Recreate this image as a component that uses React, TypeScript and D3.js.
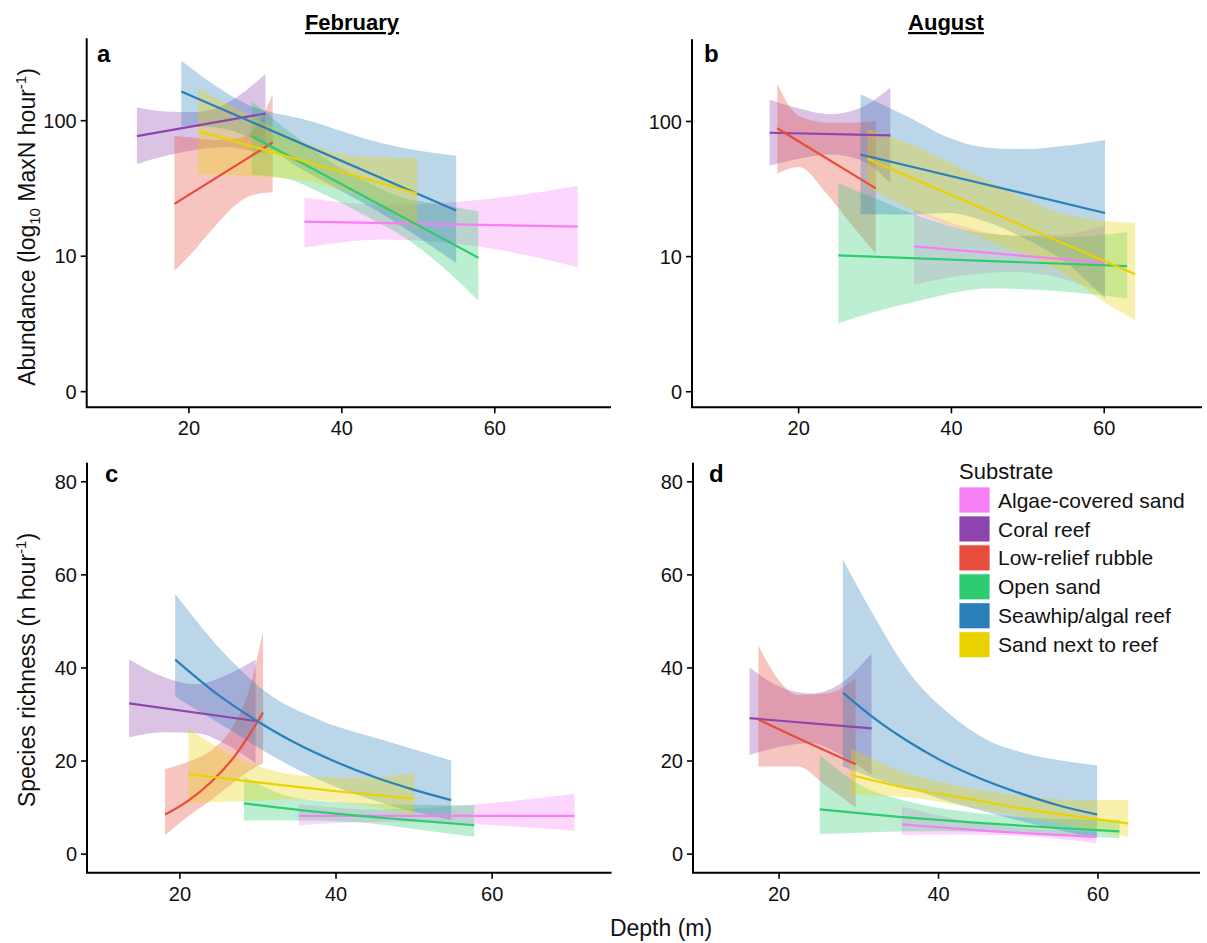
import React from "react";
import * as d3 from "d3";

// ---------- Data ----------
const substrates = [
  "Algae-covered sand",
  "Coral reef",
  "Low-relief rubble",
  "Open sand",
  "Seawhip/algal reef",
  "Sand next to reef",
];
const substrateColors = ["#F67FF6", "#8E44AD", "#E74C3C", "#2ECC71", "#2980B9", "#EAD200"];

const depthTicks = [20, 40, 60];
const abundanceTicks = [1, 10, 100];
const abundanceTickLabels = ["0", "10", "100"];
const richnessTicks = [0, 20, 40, 60, 80];
const seasons = ["February", "August"];
const panelLetters = ["a", "b", "c", "d"];

// Panel a: February abundance — fitted line [depth, MaxN]
const febAbundanceLines: Record<string, number[][]> = {
  "Algae-covered sand": [[35.1, 18], [70.85, 16.5]],
  "Coral reef": [[13.2, 77], [30, 113]],
  "Low-relief rubble": [[18.1, 24.3], [30.95, 69]],
  "Open sand": [[28.2, 77], [57.85, 9.75]],
  "Seawhip/algal reef": [[19, 164], [54.95, 21.7]],
  "Sand next to reef": [[21.2, 84], [49.85, 29]],
};
// confidence band [depth, low, high]
const febAbundanceBands: Record<string, number[][]> = {
  "Algae-covered sand": [[35.1, 11.6, 27], [45.35, 13.3, 24], [57.85, 11.8, 26], [70.85, 8.3, 33]],
  "Coral reef": [[13.2, 48, 125], [17, 55, 117], [21, 61, 116], [25, 64, 135], [27.5, 61, 168], [30, 57, 221]],
  "Low-relief rubble": [[18.1, 7.8, 77], [20.35, 10.5, 75], [23.35, 16.5, 72], [26.35, 24.5, 74], [28.35, 28.3, 84], [30.95, 29.6, 157]],
  "Open sand": [[28.2, 40, 140], [33, 37, 84], [38, 28, 52], [43, 20, 36], [48, 14, 27], [53, 8.5, 24], [57.85, 4.7, 21.5]],
  "Seawhip/algal reef": [[19, 91, 277], [23, 90, 189], [27.35, 78, 134], [35.35, 42, 101], [45.35, 20.4, 68], [54.95, 8.9, 55]],
  "Sand next to reef": [[21.2, 40, 173], [28.35, 39, 107], [35, 36, 70], [42, 28, 55], [49.85, 15.9, 53]],
};

// Panel b: August abundance
const augAbundanceLines: Record<string, number[][]> = {
  "Algae-covered sand": [[35.1, 11.9], [60.1, 9.0]],
  "Coral reef": [[16.2, 82.5], [32, 79]],
  "Low-relief rubble": [[17.2, 89], [30.1, 32]],
  "Open sand": [[25.2, 10.2], [63, 8.5]],
  "Seawhip/algal reef": [[28.1, 57], [60.1, 21]],
  "Sand next to reef": [[29, 53], [64.05, 7.4]],
};
const augAbundanceBands: Record<string, number[][]> = {
  "Algae-covered sand": [[35.1, 6.2, 22.5], [42, 7.3, 16.5], [48, 7.7, 14.3], [54, 7, 14.5], [60.1, 5.3, 17]],
  "Coral reef": [[16.2, 47, 145], [20, 53, 125], [24, 57, 113], [28, 52, 125], [32, 35, 178]],
  "Low-relief rubble": [[17.2, 41, 189], [20, 46, 110], [23.7, 29, 98], [27, 17, 98], [30.1, 10.5, 101]],
  "Open sand": [[25.2, 3.2, 35], [30, 3.9, 27], [35, 4.6, 20.7], [45.2, 5.8, 14.7], [55, 5.5, 13.9], [63, 4.9, 15.2]],
  "Seawhip/algal reef": [[28.1, 20.7, 159], [34.5, 20.5, 107], [39.6, 21, 76], [44.66, 18, 64], [49.7, 13.5, 62.5], [54.8, 9.2, 66], [60.1, 4.9, 73]],
  "Sand next to reef": [[29, 32.6, 88], [34.5, 22.5, 68], [44.66, 13.3, 36.5], [54.8, 7.5, 20.7], [60, 4.6, 18.4], [64.05, 3.4, 17.7]],
};

// Panel c: February species richness
const febRichnessLines: Record<string, number[][]> = {
  "Algae-covered sand": [[35.2, 8.2], [70.55, 8.2]],
  "Coral reef": [[13.5, 32.4], [29.7, 28.6]],
  "Low-relief rubble": [[18.1, 8.5], [21, 11.4], [24, 15.5], [27, 21.0], [30.65, 30.4]],
  "Open sand": [[28.2, 10.9], [38, 9.0], [48, 7.5], [57.7, 6.2]],
  "Seawhip/algal reef": [[19.4, 41.8], [25, 34.1], [30, 28.5], [35, 23.7], [40, 19.8], [45, 16.5], [50, 13.8], [54.75, 11.6]],
  "Sand next to reef": [[21.1, 17.2], [30, 15.4], [40, 13.5], [50, 11.9]],
};
const febRichnessBands: Record<string, number[][]> = {
  "Algae-covered sand": [[35.2, 6.2, 10.7], [45, 6.9, 9.6], [55, 6.6, 10.3], [70.55, 5, 12.9]],
  "Coral reef": [[13.5, 25.1, 41.8], [18, 26.2, 38], [22, 26, 36.5], [26, 23.5, 38.5], [29.7, 19.5, 41.8]],
  "Low-relief rubble": [[18.1, 4.1, 18.3], [21, 8.0, 19.8], [24, 11.6, 22.3], [27, 15.5, 28], [29, 18, 36], [30.65, 19.5, 48]],
  "Open sand": [[28.2, 7.2, 16.6], [35, 7.2, 12], [43, 6.8, 10.9], [50, 5.4, 10.6], [57.7, 3.7, 10.5]],
  "Seawhip/algal reef": [[19.4, 33.8, 55.9], [26.5, 26.6, 41.7], [31.3, 21.6, 34.5], [37.9, 15.9, 28.8], [46, 10.9, 24.5], [54.75, 7.3, 20.1]],
  "Sand next to reef": [[21.1, 11.0, 27], [28, 11.4, 20.2], [35, 11.8, 17], [42, 10.8, 16.4], [50, 8.4, 17.3]],
};

// Panel d: August species richness
const augRichnessLines: Record<string, number[][]> = {
  "Algae-covered sand": [[35.4, 6.4], [47, 4.9], [59.8, 3.7]],
  "Coral reef": [[16.3, 29.2], [31.6, 27.0]],
  "Low-relief rubble": [[17.4, 28.9], [23, 24.4], [29.6, 19.3]],
  "Open sand": [[25.1, 9.6], [35, 8.0], [45, 6.7], [55, 5.6], [62.7, 4.9]],
  "Seawhip/algal reef": [[28, 34.7], [32, 29.1], [36, 24.4], [40, 20.4], [45, 16.4], [50, 13.2], [55, 10.5], [59.9, 8.5]],
  "Sand next to reef": [[29, 17], [36, 14.2], [44, 11.8], [52, 9.4], [58, 7.9], [63.8, 6.6]],
};
const augRichnessBands: Record<string, number[][]> = {
  "Algae-covered sand": [[35.4, 4.1, 10.2], [42, 4.2, 7.6], [47, 4.1, 6.2], [53, 3.6, 5.3], [59.8, 2.3, 4.8]],
  "Coral reef": [[16.3, 21.3, 40.1], [20, 23, 36], [24, 23.8, 34.5], [28, 21, 37], [31.6, 17.0, 43.1]],
  "Low-relief rubble": [[17.4, 18.8, 44.8], [19.5, 18.8, 38.5], [22.3, 18.8, 34.2], [26, 14.5, 34.5], [29.6, 10, 37.8]],
  "Open sand": [[25.1, 4.3, 21.3], [30, 4.6, 15], [37, 4.9, 11], [45, 4.8, 8.8], [53, 4.3, 7.7], [62.7, 3.4, 7.3]],
  "Seawhip/algal reef": [[28, 18.8, 63.3], [31.5, 16.5, 52.4], [36.4, 14, 38.8], [41.3, 11.3, 30.2], [46.1, 9, 24.5], [51, 6.8, 21.6], [55, 5.2, 20.2], [59.9, 3.4, 19.1]],
  "Sand next to reef": [[29, 12.7, 22.7], [36, 12.2, 17.4], [44, 10, 14.2], [52, 7.6, 12.2], [58, 5.6, 11.6], [63.8, 3.7, 11.6]],
};

// ---------- Drawing ----------
const FONT = "'Liberation Sans', Arial, Helvetica, sans-serif";

function Panel(props: any) {
  const { lines, bands, xRange, xDomain, yRange, yScale, yTicks, yTickLabels, letter, letterX, letterY } = props;
  const x = d3.scaleLinear().domain(xDomain).range(xRange);
  const y = yScale;
  const area = d3
    .area<number[]>()
    .x((d) => x(d[0]))
    .y0((d) => y(d[1]))
    .y1((d) => y(d[2]))
    .curve(d3.curveMonotoneX);
  const line = d3
    .line<number[]>()
    .x((d) => x(d[0]))
    .y((d) => y(d[1]))
    .curve(d3.curveMonotoneX);
  const x0 = xRange[0];
  const x1 = xRange[1];
  const yb = yRange[0];
  const yt = yRange[1];
  return (
    <g>
      {substrates.map((s, i) =>
        bands[s] ? (
          <path key={"b" + s} d={area(bands[s]) || ""} fill={substrateColors[i]} fillOpacity={0.32} stroke="none" />
        ) : null
      )}
      {substrates.map((s, i) =>
        lines[s] ? (
          <path key={"l" + s} d={line(lines[s]) || ""} fill="none" stroke={substrateColors[i]} strokeWidth={2.2} />
        ) : null
      )}
      <path d={`M${x0},${yt}V${yb}H${x1}`} fill="none" stroke="#000" strokeWidth={2} />
      {yTicks.map((t: number, i: number) => (
        <g key={"yt" + t}>
          <line x1={x0 - 6} x2={x0} y1={y(t)} y2={y(t)} stroke="#000" strokeWidth={1.6} />
          <text x={x0 - 10} y={y(t)} dy="0.36em" textAnchor="end" fontSize={20} fontFamily={FONT} fill="#111">
            {yTickLabels[i]}
          </text>
        </g>
      ))}
      {depthTicks.map((t) => (
        <g key={"xt" + t}>
          <line x1={x(t)} x2={x(t)} y1={yb} y2={yb + 6} stroke="#000" strokeWidth={1.6} />
          <text x={x(t)} y={yb + 28} textAnchor="middle" fontSize={20} fontFamily={FONT} fill="#111">
            {t}
          </text>
        </g>
      ))}
      <text x={letterX} y={letterY} fontSize={24} fontWeight="bold" fontFamily={FONT} fill="#000">
        {letter}
      </text>
    </g>
  );
}

export default function App() {
  const abundY = d3.scaleLog().domain([0.767, 405.5]).range([407.3, 38.3]);
  const abundYb = d3.scaleLog().domain([0.767, 405.5]).range([407.3, 39.3]);
  const richY = d3.scaleLinear().domain([-4.0, 84.1]).range([872.7, 462.7]);

  const legendX = 959;
  const legendY0 = 487;
  const legendStep = 28.95;

  return (
    <svg
      width={1207}
      height={943}
      style={{ position: "absolute", left: 0, top: 0, background: "#fff" }}
      fontFamily={FONT}
    >
      <rect x={0} y={0} width={1207} height={943} fill="#fff" />
      <text x={352} y={30} textAnchor="middle" fontSize={22} fontWeight="bold" fontFamily={FONT} textDecoration="underline">
        {seasons[0]}
      </text>
      <text x={946} y={30} textAnchor="middle" fontSize={22} fontWeight="bold" fontFamily={FONT} textDecoration="underline">
        {seasons[1]}
      </text>

      <Panel
        lines={febAbundanceLines}
        bands={febAbundanceBands}
        xRange={[86.7, 611]}
        xDomain={[6.63, 75.2]}
        yRange={[407.3, 38.3]}
        yScale={abundY}
        yTicks={abundanceTicks}
        yTickLabels={abundanceTickLabels}
        letter={panelLetters[0]}
        letterX={97}
        letterY={62}
      />
      <Panel
        lines={augAbundanceLines}
        bands={augAbundanceBands}
        xRange={[692, 1202]}
        xDomain={[6.04, 72.8]}
        yRange={[407.3, 39.3]}
        yScale={abundYb}
        yTicks={abundanceTicks}
        yTickLabels={abundanceTickLabels}
        letter={panelLetters[1]}
        letterX={704}
        letterY={62}
      />
      <Panel
        lines={febRichnessLines}
        bands={febRichnessBands}
        xRange={[87, 611.6]}
        xDomain={[8.1, 75.3]}
        yRange={[872.7, 462.7]}
        yScale={richY}
        yTicks={richnessTicks}
        yTickLabels={richnessTicks.map(String)}
        letter={panelLetters[2]}
        letterX={105}
        letterY={482}
      />
      <Panel
        lines={augRichnessLines}
        bands={augRichnessBands}
        xRange={[693, 1200]}
        xDomain={[9.2, 72.8]}
        yRange={[872.7, 462.7]}
        yScale={richY}
        yTicks={richnessTicks}
        yTickLabels={richnessTicks.map(String)}
        letter={panelLetters[3]}
        letterX={709}
        letterY={482}
      />

      {/* Axis titles */}
      <text transform="translate(35,227) rotate(-90)" textAnchor="middle" fontSize={23} fontFamily={FONT} fill="#111">
        Abundance (log
        <tspan fontSize={15} dy={5}>10</tspan>
        <tspan dy={-5}> MaxN hour</tspan>
        <tspan fontSize={15} dy={-9}>-1</tspan>
        <tspan dy={9}>)</tspan>
      </text>
      <text transform="translate(35,670) rotate(-90)" textAnchor="middle" fontSize={23} fontFamily={FONT} fill="#111">
        Species richness (n hour
        <tspan fontSize={15} dy={-9}>-1</tspan>
        <tspan dy={9}>)</tspan>
      </text>
      <text x={661} y={936} textAnchor="middle" fontSize={23} fontFamily={FONT} fill="#111">
        Depth (m)
      </text>

      {/* Legend */}
      <text x={legendX} y={479} fontSize={22} fontFamily={FONT} fill="#111">
        Substrate
      </text>
      {substrates.map((s, i) => (
        <g key={"lg" + s}>
          <rect
            x={legendX}
            y={legendY0 + i * legendStep}
            width={31}
            height={26}
            fill={substrateColors[i]}
            stroke="#fff"
            strokeWidth={0.8}
          />
          <text
            x={998}
            y={legendY0 + i * legendStep + 13}
            dy="0.36em"
            fontSize={21}
            fontFamily={FONT}
            fill="#111"
          >
            {s}
          </text>
        </g>
      ))}
    </svg>
  );
}
